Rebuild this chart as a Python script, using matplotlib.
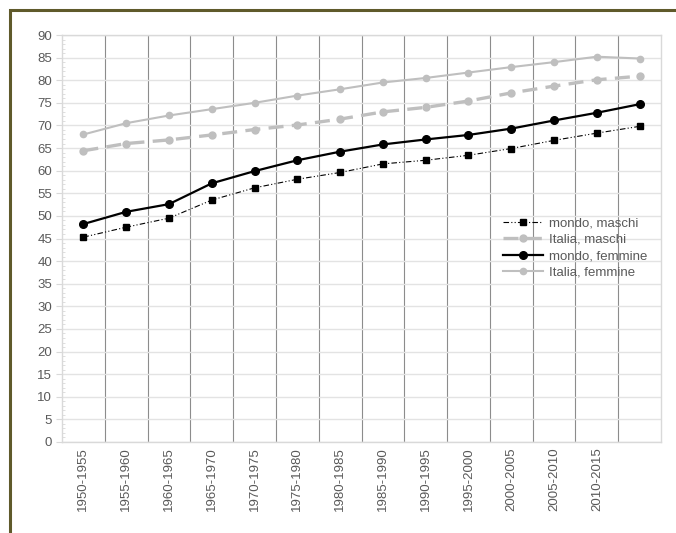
import numpy as np
import matplotlib.pyplot as plt
from matplotlib.patches import Rectangle
from matplotlib.ticker import MultipleLocator

# categories (last period has no label in the original)
periods = ["1950-1955", "1955-1960", "1960-1965", "1965-1970", "1970-1975",
           "1975-1980", "1980-1985", "1985-1990", "1990-1995", "1995-2000",
           "2000-2005", "2005-2010", "2010-2015", ""]

mondo_maschi = [45.3, 47.5, 49.5, 53.5, 56.2, 58.1, 59.6, 61.5, 62.3, 63.4, 64.9, 66.7, 68.3, 69.8]
italia_maschi = [64.4, 66.0, 66.8, 67.9, 69.1, 70.1, 71.4, 73.0, 74.0, 75.4, 77.2, 78.7, 80.1, 80.9]
mondo_femmine = [48.2, 50.9, 52.6, 57.2, 59.9, 62.3, 64.2, 65.8, 66.9, 67.9, 69.3, 71.1, 72.8, 74.7]
italia_femmine = [68.0, 70.5, 72.2, 73.6, 75.0, 76.6, 78.0, 79.5, 80.5, 81.7, 82.9, 84.0, 85.2, 84.8]

plt.rcParams['font.family'] = ['Liberation Sans', 'DejaVu Sans']
txt = '#595959'
lgrey = '#bfbfbf'

W, H = 676, 533
fig = plt.figure(figsize=(W / 100, H / 100), dpi=100)
ax = fig.add_axes([62 / W, 1 - 442 / H, (661 - 62) / W, (442 - 35) / H])

x = np.arange(len(periods))

ax.plot(x, mondo_maschi, color='black', lw=0.8, ls=(0, (5, 2, 1, 2, 1, 2)),
        marker='s', ms=4, label='mondo, maschi', zorder=5)
ax.plot(x, italia_maschi, color=lgrey, lw=2.4, ls=(0, (4.5, 2.5)),
        marker='o', ms=5, label='Italia, maschi', zorder=4)
ax.plot(x, mondo_femmine, color='black', lw=1.6, marker='o', ms=5.5,
        label='mondo, femmine', zorder=6)
ax.plot(x, italia_femmine, color=lgrey, lw=1.5, marker='o', ms=4.5,
        label='Italia, femmine', zorder=4)

ax.set_xlim(-0.5, len(periods) - 0.5)
ax.set_ylim(0, 90)
ax.yaxis.set_major_locator(MultipleLocator(5))
ax.yaxis.set_minor_locator(MultipleLocator(1))

ax.set_xticks(x)
ax.set_xticklabels(periods, rotation=90, fontsize=9.5, color=txt)
ax.tick_params(axis='x', length=0, pad=4)
ax.tick_params(axis='y', which='major', length=4, color='#d9d9d9',
               labelsize=9.5, labelcolor=txt, pad=3)
ax.tick_params(axis='y', which='minor', length=2, direction='in', color='#d9d9d9')

# horizontal grid + vertical lines between categories
ax.grid(axis='y', color='#e3e3e3', lw=1.0, zorder=0)
for b in x[:-1] + 0.5:
    ax.axvline(b, color='#8c8c8c', lw=0.8, zorder=1)
for s in ax.spines.values():
    s.set_color('#d9d9d9')
    s.set_linewidth(1.0)

ax.legend(loc='upper left', bbox_to_anchor=(503 / W, 1 - 217 / H),
          bbox_transform=fig.transFigure, frameon=False, fontsize=9.5,
          labelcolor=txt, handlelength=3.0, handletextpad=0.45,
          labelspacing=0.32, borderpad=0, borderaxespad=0)

# olive frame around the chart
fig.patches.append(Rectangle((10 / W, -0.1), 1.2, 1 - 10 / H + 0.1,
                             transform=fig.transFigure, fill=False,
                             edgecolor='#5f5a2b', lw=2.2, zorder=0))

fig.savefig('out.png', dpi=100)
